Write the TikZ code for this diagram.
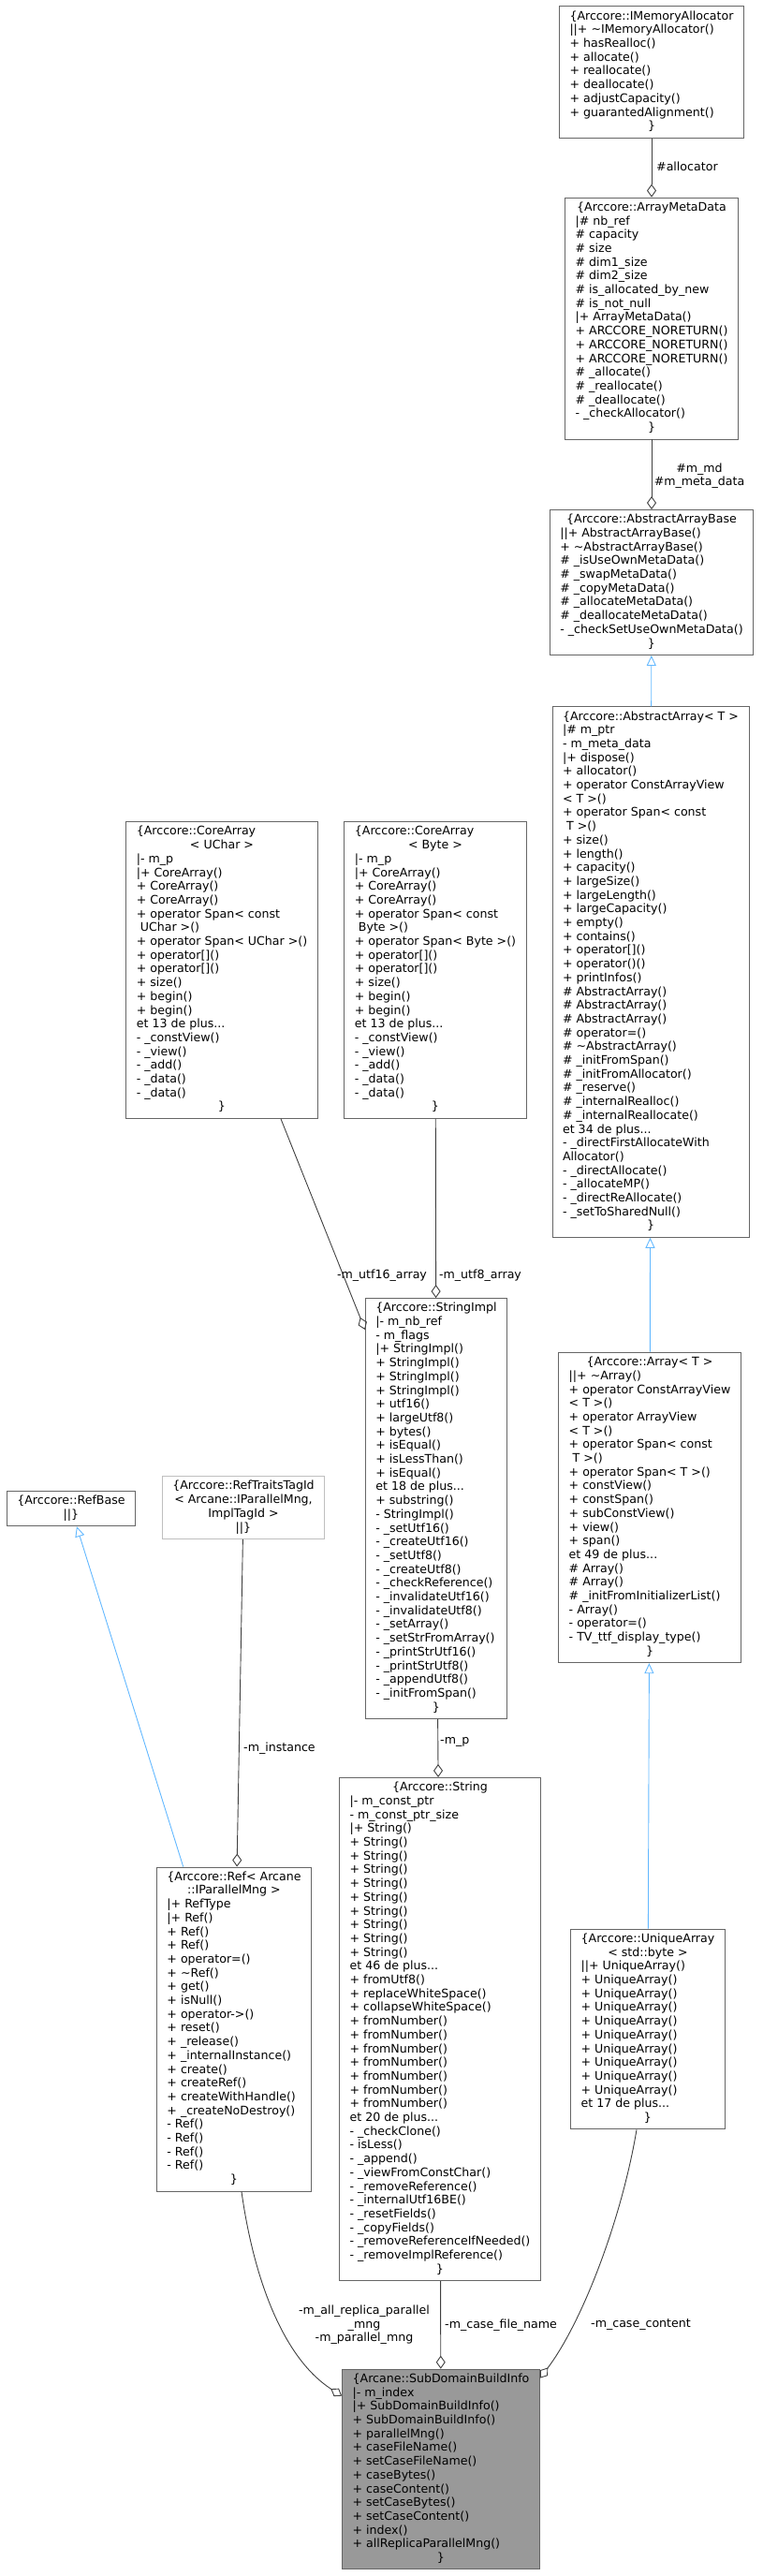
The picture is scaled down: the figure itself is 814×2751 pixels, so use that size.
\documentclass[tikz,border=0pt]{standalone}
\usepackage{fontspec}
\setmainfont{DejaVu Sans}
\usetikzlibrary{arrows.meta}
\definecolor{boxgray}{HTML}{666666}
\definecolor{linegray}{HTML}{404040}
\definecolor{inheritblue}{HTML}{63B8FF}
\definecolor{tracegray}{HTML}{BFBFBF}
\definecolor{mainfill}{HTML}{999999}
\newcommand{\ctr}[1]{\multicolumn{1}{@{}c@{}}{#1}}
\tikzset{
  classbox/.style={draw=boxgray, fill=white, line width=0.9pt, inner xsep=11pt, inner ysep=4pt,
    font=\fontsize{12.6}{14.7}\selectfont},
  edgelabel/.style={inner sep=0pt, align=center, font=\fontsize{12.6}{14.5}\selectfont},
  member/.style={draw=linegray, line width=0.9pt, -{Diamond[open, length=14pt, width=10pt]}},
  inherit/.style={draw=inheritblue, line width=0.9pt, -{Triangle[open, length=11pt, width=10pt]}}
}
\begin{document}
\begin{tikzpicture}[x=1pt, y=-1pt]
\useasboundingbox (0,0) rectangle (814,2751);
% top chain
\node [classbox] (ima) at (696,77) {\begin{tabular}{@{}l@{}}
\ctr{\{Arccore::IMemoryAllocator}\\
||+ \textasciitilde IMemoryAllocator()\\
+ hasRealloc()\\
+ allocate()\\
+ reallocate()\\
+ deallocate()\\
+ adjustCapacity()\\
+ guarantedAlignment()\\
\ctr{\}}
\end{tabular}};
\node [classbox] (amd) at (696,340) {\begin{tabular}{@{}l@{}}
\ctr{\{Arccore::ArrayMetaData}\\
|\# nb\_ref\\
\# capacity\\
\# size\\
\# dim1\_size\\
\# dim2\_size\\
\# is\_allocated\_by\_new\\
\# is\_not\_null\\
|+ ArrayMetaData()\\
+ ARCCORE\_NORETURN()\\
+ ARCCORE\_NORETURN()\\
+ ARCCORE\_NORETURN()\\
\# \_allocate()\\
\# \_reallocate()\\
\# \_deallocate()\\
- \_checkAllocator()\\
\ctr{\}}
\end{tabular}};
\node [classbox] (aab) at (696,622) {\begin{tabular}{@{}l@{}}
\ctr{\{Arccore::AbstractArrayBase}\\
||+ AbstractArrayBase()\\
+ \textasciitilde AbstractArrayBase()\\
\# \_isUseOwnMetaData()\\
\# \_swapMetaData()\\
\# \_copyMetaData()\\
\# \_allocateMetaData()\\
\# \_deallocateMetaData()\\
- \_checkSetUseOwnMetaData()\\
\ctr{\}}
\end{tabular}};
\node [classbox] (aa) at (695,1038) {\begin{tabular}{@{}l@{}}
\ctr{\{Arccore::AbstractArray< T >}\\
|\# m\_ptr\\
- m\_meta\_data\\
|+ dispose()\\
+ allocator()\\
+ operator ConstArrayView\\
< T >()\\
+ operator Span< const\\
\ T >()\\
+ size()\\
+ length()\\
+ capacity()\\
+ largeSize()\\
+ largeLength()\\
+ largeCapacity()\\
+ empty()\\
+ contains()\\
+ operator[]()\\
+ operator()()\\
+ printInfos()\\
\# AbstractArray()\\
\# AbstractArray()\\
\# AbstractArray()\\
\# operator=()\\
\# \textasciitilde AbstractArray()\\
\# \_initFromSpan()\\
\# \_initFromAllocator()\\
\# \_reserve()\\
\# \_internalRealloc()\\
\# \_internalReallocate()\\
et 34 de plus...\\
- \_directFirstAllocateWith\\
Allocator()\\
- \_directAllocate()\\
- \_allocateMP()\\
- \_directReAllocate()\\
- \_setToSharedNull()\\
\ctr{\}}
\end{tabular}};
% core arrays
\node [classbox] (cauchar) at (237,1036) {\begin{tabular}{@{}l@{}}
\{Arccore::CoreArray\\
\ctr{< UChar >}\\
|- m\_p\\
|+ CoreArray()\\
+ CoreArray()\\
+ CoreArray()\\
+ operator Span< const\\
\ UChar >()\\
+ operator Span< UChar >()\\
+ operator[]()\\
+ operator[]()\\
+ size()\\
+ begin()\\
+ begin()\\
et 13 de plus...\\
- \_constView()\\
- \_view()\\
- \_add()\\
- \_data()\\
- \_data()\\
\ctr{\}}
\end{tabular}};
\node [classbox] (cabyte) at (465,1036) {\begin{tabular}{@{}l@{}}
\{Arccore::CoreArray\\
\ctr{< Byte >}\\
|- m\_p\\
|+ CoreArray()\\
+ CoreArray()\\
+ CoreArray()\\
+ operator Span< const\\
\ Byte >()\\
+ operator Span< Byte >()\\
+ operator[]()\\
+ operator[]()\\
+ size()\\
+ begin()\\
+ begin()\\
et 13 de plus...\\
- \_constView()\\
- \_view()\\
- \_add()\\
- \_data()\\
- \_data()\\
\ctr{\}}
\end{tabular}};
% middle row
\node [classbox] (refbase) at (76,1611) {\begin{tabular}{@{}c@{}}
\{Arccore::RefBase\\
||\}
\end{tabular}};
\node [classbox, draw=tracegray] (reftraits) at (260,1610) {\begin{tabular}{@{}c@{}}
\{Arccore::RefTraitsTagId\\
< Arcane::IParallelMng,\\
ImplTagId >\\
||\}
\end{tabular}};
\node [classbox] (stringimpl) at (466,1611) {\begin{tabular}{@{}l@{}}
\ctr{\{Arccore::StringImpl}\\
|- m\_nb\_ref\\
- m\_flags\\
|+ StringImpl()\\
+ StringImpl()\\
+ StringImpl()\\
+ StringImpl()\\
+ utf16()\\
+ largeUtf8()\\
+ bytes()\\
+ isEqual()\\
+ isLessThan()\\
+ isEqual()\\
et 18 de plus...\\
+ substring()\\
- StringImpl()\\
- \_setUtf16()\\
- \_createUtf16()\\
- \_setUtf8()\\
- \_createUtf8()\\
- \_checkReference()\\
- \_invalidateUtf16()\\
- \_invalidateUtf8()\\
- \_setArray()\\
- \_setStrFromArray()\\
- \_printStrUtf16()\\
- \_printStrUtf8()\\
- \_appendUtf8()\\
- \_initFromSpan()\\
\ctr{\}}
\end{tabular}};
\node [classbox] (array) at (694,1610) {\begin{tabular}{@{}l@{}}
\ctr{\{Arccore::Array< T >}\\
||+ \textasciitilde Array()\\
+ operator ConstArrayView\\
< T >()\\
+ operator ArrayView\\
< T >()\\
+ operator Span< const\\
\ T >()\\
+ operator Span< T >()\\
+ constView()\\
+ constSpan()\\
+ subConstView()\\
+ view()\\
+ span()\\
et 49 de plus...\\
\# Array()\\
\# Array()\\
\# \_initFromInitializerList()\\
- Array()\\
- operator=()\\
- TV\_ttf\_display\_type()\\
\ctr{\}}
\end{tabular}};
% lower row
\node [classbox] (ref) at (250,2167) {\begin{tabular}{@{}l@{}}
\ctr{\{Arccore::Ref< Arcane}\\
\ctr{::IParallelMng >}\\
|+ RefType\\
|+ Ref()\\
+ Ref()\\
+ Ref()\\
+ operator=()\\
+ \textasciitilde Ref()\\
+ get()\\
+ isNull()\\
+ operator->()\\
+ reset()\\
+ \_release()\\
+ \_internalInstance()\\
+ create()\\
+ createRef()\\
+ createWithHandle()\\
+ \_createNoDestroy()\\
- Ref()\\
- Ref()\\
- Ref()\\
- Ref()\\
\ctr{\}}
\end{tabular}};
\node [classbox] (string) at (470,2167) {\begin{tabular}{@{}l@{}}
\ctr{\{Arccore::String}\\
|- m\_const\_ptr\\
- m\_const\_ptr\_size\\
|+ String()\\
+ String()\\
+ String()\\
+ String()\\
+ String()\\
+ String()\\
+ String()\\
+ String()\\
+ String()\\
+ String()\\
et 46 de plus...\\
+ fromUtf8()\\
+ replaceWhiteSpace()\\
+ collapseWhiteSpace()\\
+ fromNumber()\\
+ fromNumber()\\
+ fromNumber()\\
+ fromNumber()\\
+ fromNumber()\\
+ fromNumber()\\
+ fromNumber()\\
et 20 de plus...\\
- \_checkClone()\\
- isLess()\\
- \_append()\\
- \_viewFromConstChar()\\
- \_removeReference()\\
- \_internalUtf16BE()\\
- \_resetFields()\\
- \_copyFields()\\
- \_removeReferenceIfNeeded()\\
- \_removeImplReference()\\
\ctr{\}}
\end{tabular}};
\node [classbox] (uniquearray) at (692,2167) {\begin{tabular}{@{}l@{}}
\ctr{\{Arccore::UniqueArray}\\
\ctr{< std::byte >}\\
||+ UniqueArray()\\
+ UniqueArray()\\
+ UniqueArray()\\
+ UniqueArray()\\
+ UniqueArray()\\
+ UniqueArray()\\
+ UniqueArray()\\
+ UniqueArray()\\
+ UniqueArray()\\
+ UniqueArray()\\
et 17 de plus...\\
\ctr{\}}
\end{tabular}};
% the documented class
\node [classbox, fill=mainfill] (sdbi) at (471,2637) {\begin{tabular}{@{}l@{}}
\ctr{\{Arcane::SubDomainBuildInfo}\\
|- m\_index\\
|+ SubDomainBuildInfo()\\
+ SubDomainBuildInfo()\\
+ parallelMng()\\
+ caseFileName()\\
+ setCaseFileName()\\
+ caseBytes()\\
+ caseContent()\\
+ setCaseBytes()\\
+ setCaseContent()\\
+ index()\\
+ allReplicaParallelMng()\\
\ctr{\}}
\end{tabular}};
% edge labels
\node [edgelabel, anchor=west] (lblalloc) at (701,178) {\#allocator};
\node [edgelabel] (lblmeta) at (747,508) {\#m\_md\\\#m\_meta\_data};
\node [edgelabel] (lblutfsixteen) at (408,1362) {-m\_utf16\_array};
\node [edgelabel] (lblutfeight) at (513,1362) {-m\_utf8\_array};
\node [edgelabel, anchor=west] (lblp) at (470,1860) {-m\_p};
\node [edgelabel, anchor=west] (lblinstance) at (260,1867) {-m\_instance};
\node [edgelabel] (lblparallel) at (389,2483) {-m\_all\_replica\_parallel\\\_mng\\-m\_parallel\_mng};
\node [edgelabel, anchor=west] (lblfilename) at (475,2483) {-m\_case\_file\_name};
\node [edgelabel, anchor=west] (lblcontent) at (631,2483) {-m\_case\_content};
% connectors
\draw [member] (ima) -- (amd);
\draw [member] (amd) -- (aab);
\draw [inherit] (aa) -- (aab);
\draw [inherit] (array) -- (aa);
\draw [inherit] (uniquearray) -- (array);
\draw [member] (cauchar) -- (stringimpl);
\draw [member] (cabyte) -- (stringimpl);
\draw [member] (stringimpl) -- (string);
\draw [inherit] (ref) -- (refbase);
\draw [member] (reftraits) -- (ref);
\draw [member] (string) -- (sdbi);
\draw [member] ([xshift=8pt]ref.south) .. controls (272,2440) and (305,2520) .. ([yshift=-29pt]sdbi.north west);
\draw [member] ([xshift=-12pt]uniquearray.south) .. controls (664,2370) and (622,2480) .. ([yshift=-10pt]sdbi.north east);
\end{tikzpicture}
\end{document}
